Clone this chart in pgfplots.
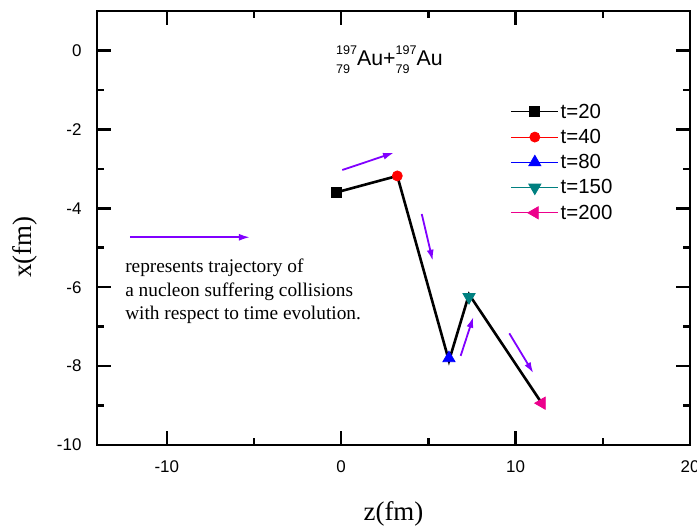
\documentclass[border=0pt]{standalone}
\usepackage{pgfplots}
\pgfplotsset{compat=1.18}
\usepackage{fontspec}
\setmainfont{Liberation Sans}
\newfontfamily\timesf{Liberation Serif}
\usetikzlibrary{arrows.meta}
\definecolor{arrv}{RGB}{128,0,255}
\definecolor{tealc}{RGB}{0,128,128}
\newcommand\scr{\fontsize{12.6}{13}\selectfont}
\newcommand\iso[3]{\rlap{\raisebox{-8bp}{\scr #2}}\raisebox{11bp}{\scr #1}#3}
\begin{document}
\begin{tikzpicture}
\begin{axis}[name=ax, scale only axis, width=593bp, height=434bp,
  xmin=-14, xmax=20, ymin=-10, ymax=1,
  xtick={-10,0,10,20}, ytick={-10,-8,-6,-4,-2,0},
  minor x tick num=1, minor y tick num=1,
  tick align=inside, tick pos=both,
  axis line style={line width=2.5bp},
  major tick length=14bp, minor tick length=7bp,
  every tick/.style={black, line width=2.5bp},
  ticklabel style={font=\fontsize{17}{20}\selectfont},
  /pgf/number format/assume math mode=true,
  xticklabel style={yshift=-12bp},
  yticklabel style={xshift=-12bp},
  xlabel={z(fm)}, ylabel={x(fm)},
  xlabel style={at={(axis description cs:0.5,-0.158)}, anchor=center, font=\timesf\fontsize{27}{30}\selectfont},
  ylabel style={at={(axis description cs:-0.121,0.456)}, anchor=center, font=\timesf\fontsize{27}{30}\selectfont},
  clip=false,
  legend cell align=left,
  legend style={at={(axis cs:9.55,-1.25)}, anchor=north west, draw=none, fill=none,
    font=\fontsize{20.5}{24}\selectfont, row sep=5.5bp},
  legend image code/.code={\draw[#1, mark repeat=2, mark phase=2] plot coordinates {(0bp,0bp) (23.5bp,0bp) (47bp,0bp)};},
]
\addplot[black, line width=0.8bp, mark=square*, mark size=5bp, mark options={solid, fill=black}] coordinates {(-0.256,-3.595)};
\addlegendentry{t=20}
\addplot[red, line width=0.8bp, mark=*, mark size=5bp, mark options={solid, fill=red}] coordinates {(3.218,-3.18)};
\addlegendentry{t=40}
\addplot[blue, line width=0.8bp, mark=triangle*, mark size=7bp, mark options={solid, fill=blue}] coordinates {(6.18,-7.80)};
\addlegendentry{t=80}
\addplot[tealc, line width=0.8bp, mark=triangle*, mark size=7bp, mark options={solid, fill=tealc, rotate=180}] coordinates {(7.33,-6.25)};
\addlegendentry{t=150}
\addplot[magenta, line width=0.8bp, mark=triangle*, mark size=7bp, mark options={solid, fill=magenta, rotate=90}] coordinates {(11.5,-8.94)};
\addlegendentry{t=200}
\addplot[black, line width=2.6bp, forget plot] coordinates {(-0.256,-3.595) (3.218,-3.18) (6.18,-7.87) (7.33,-6.18) (11.5,-8.94)};
% arrows
\addplot[arrv, line width=1.8bp, -{Latex[length=11bp,width=7bp]}, forget plot] coordinates {(0.065,-3.03) (3.03,-2.59)};
\addplot[arrv, line width=1.8bp, -{Latex[length=11bp,width=7bp]}, forget plot] coordinates {(4.62,-4.145) (5.25,-5.33)};
\addplot[arrv, line width=1.8bp, -{Latex[length=11bp,width=7bp]}, forget plot] coordinates {(6.85,-7.74) (7.58,-6.75)};
\addplot[arrv, line width=1.8bp, -{Latex[length=11bp,width=7bp]}, forget plot] coordinates {(9.64,-7.17) (11.02,-8.18)};
\addplot[arrv, line width=1.8bp, -{Latex[length=11bp,width=7bp]}, forget plot] coordinates {(-12.11,-4.735) (-5.23,-4.735)};
\node[anchor=base west, inner sep=0pt, font=\timesf\fontsize{19.4}{23.5}\selectfont] at (axis cs:-12.39,-5.64) {represents trajectory of};
\node[anchor=base west, inner sep=0pt, font=\timesf\fontsize{19.4}{23.5}\selectfont] at (axis cs:-12.39,-6.24) {a nucleon suffering collisions};
\node[anchor=base west, inner sep=0pt, font=\timesf\fontsize{19.4}{23.5}\selectfont] at (axis cs:-12.39,-6.83) {with respect to time evolution.};
\node[anchor=base west, inner sep=0pt, font=\fontsize{21.4}{24}\selectfont] at (axis cs:-0.3,-0.39) {\iso{197}{79}{Au}+\iso{197}{79}{Au}};
\end{axis}
\pgfresetboundingbox
\path[use as bounding box] ([shift={(-97bp,-82bp)}]ax.south west) rectangle ([shift={(7bp,11bp)}]ax.north east);
\end{tikzpicture}
\end{document}
